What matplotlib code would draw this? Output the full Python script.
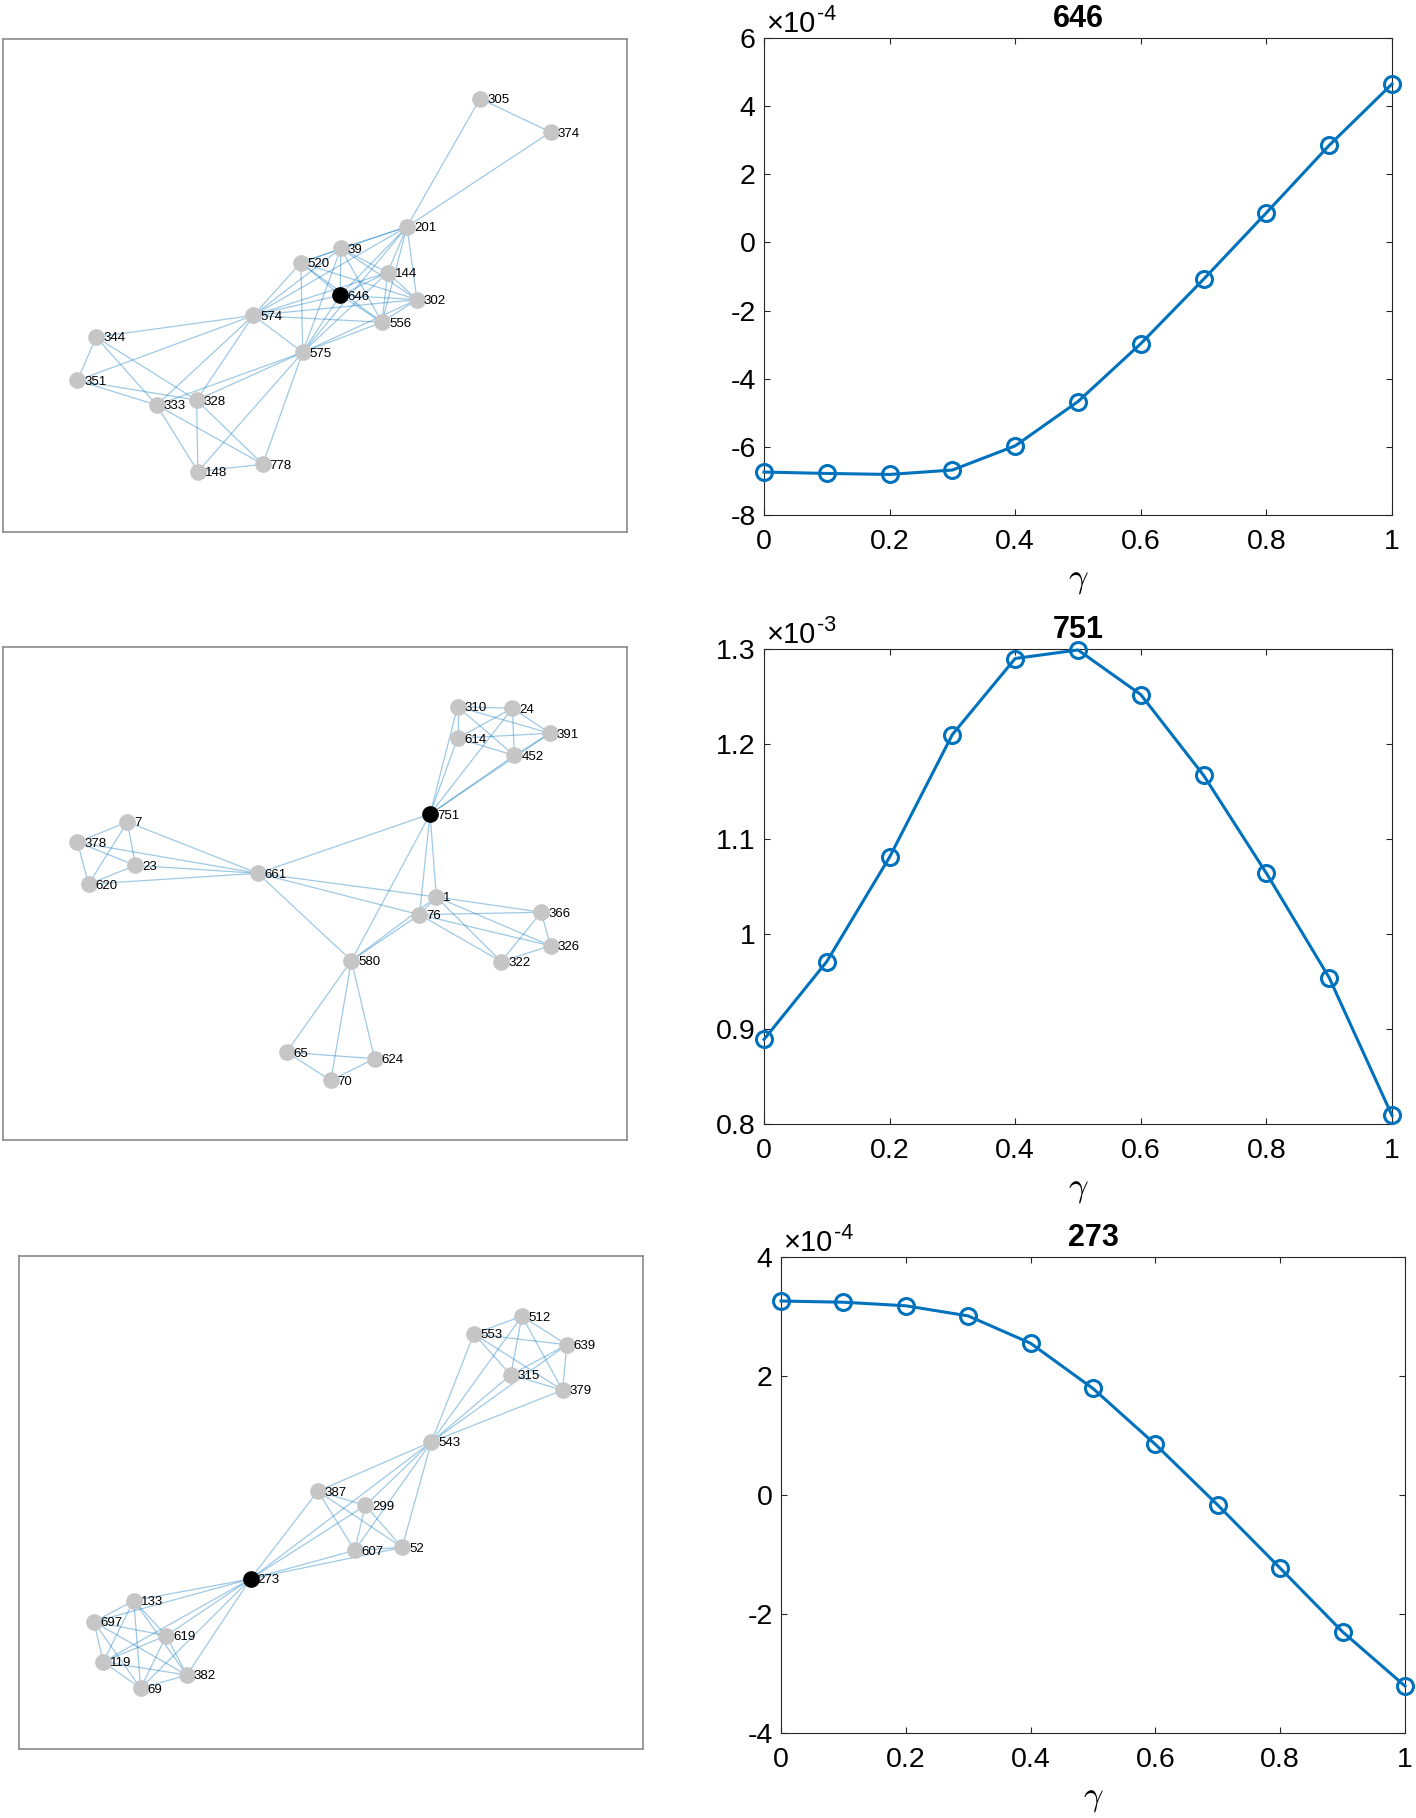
import matplotlib
matplotlib.use("Agg")
import matplotlib.pyplot as plt
import numpy as np

plt.rcParams['font.family'] = ['Liberation Sans', 'DejaVu Sans']
plt.rcParams['mathtext.fontset'] = 'cm'
plt.rcParams['axes.unicode_minus'] = False

# gamma grid shared by all three curves
gamma = [0, 0.1, 0.2, 0.3, 0.4, 0.5, 0.6, 0.7, 0.8, 0.9, 1.0]

# curve values (already divided by the scale factor)
val_646 = [-6.74, -6.78, -6.81, -6.68, -5.97, -4.67, -2.97, -1.08, 0.87, 2.85, 4.65]
val_751 = [0.889, 0.971, 1.081, 1.210, 1.290, 1.299, 1.252, 1.167, 1.064, 0.954, 0.809]
val_273 = [3.26, 3.24, 3.18, 3.01, 2.55, 1.79, 0.85, -0.17, -1.23, -2.30, -3.21]

# --- network 1 (focus node 646) ---
names_1 = ['305', '374', '201', '39', '520', '144', '646', '302', '574',
           '556', '344', '575', '351', '333', '328', '148', '778']
x_1 = [0.765, 0.878, 0.648, 0.542, 0.478, 0.617, 0.541, 0.664, 0.402,
       0.608, 0.150, 0.481, 0.120, 0.247, 0.311, 0.313, 0.417]
y_1 = [0.121, 0.189, 0.381, 0.425, 0.454, 0.474, 0.520, 0.529, 0.561,
       0.575, 0.605, 0.636, 0.693, 0.743, 0.733, 0.878, 0.863]
edges_1 = [('305', '374'), ('305', '201'), ('374', '201'),
           ('201', '39'), ('201', '520'), ('201', '144'), ('201', '302'), ('201', '646'),
           ('201', '556'), ('201', '575'), ('201', '574'),
           ('39', '520'), ('39', '144'), ('39', '646'), ('39', '302'), ('39', '556'),
           ('39', '575'), ('39', '574'),
           ('520', '574'), ('520', '575'), ('520', '302'), ('520', '556'), ('520', '646'),
           ('144', '646'), ('144', '302'), ('144', '556'), ('144', '574'), ('144', '575'),
           ('646', '302'), ('646', '556'), ('646', '574'), ('646', '575'),
           ('302', '556'), ('302', '574'), ('302', '575'),
           ('574', '556'), ('574', '575'), ('574', '344'), ('574', '351'), ('574', '333'),
           ('574', '328'), ('556', '575'),
           ('575', '328'), ('575', '333'), ('575', '148'), ('575', '778'),
           ('344', '351'), ('344', '328'), ('344', '333'),
           ('351', '333'), ('351', '328'),
           ('333', '148'), ('333', '778'), ('328', '148'), ('328', '778'), ('148', '778')]

# --- network 2 (focus node 751) ---
names_2 = ['310', '24', '391', '614', '452', '751', '7', '378', '23', '620',
           '661', '1', '76', '366', '326', '322', '580', '65', '624', '70']
x_2 = [0.729, 0.817, 0.877, 0.729, 0.820, 0.685, 0.200, 0.120, 0.213, 0.138,
       0.409, 0.695, 0.668, 0.863, 0.878, 0.799, 0.559, 0.455, 0.596, 0.526]
y_2 = [0.121, 0.124, 0.175, 0.185, 0.220, 0.339, 0.355, 0.396, 0.443, 0.481,
       0.459, 0.507, 0.543, 0.538, 0.606, 0.638, 0.636, 0.822, 0.835, 0.879]
edges_2 = [('310', '24'), ('310', '614'), ('310', '391'), ('310', '452'), ('310', '751'),
           ('24', '614'), ('24', '391'), ('24', '452'), ('24', '751'),
           ('391', '614'), ('391', '452'), ('391', '751'),
           ('614', '452'), ('614', '751'), ('452', '751'),
           ('751', '661'), ('751', '580'), ('751', '1'), ('751', '76'),
           ('7', '378'), ('7', '23'), ('7', '620'), ('7', '661'),
           ('378', '23'), ('378', '620'), ('378', '661'),
           ('23', '620'), ('23', '661'), ('620', '661'),
           ('661', '1'), ('661', '76'), ('661', '580'),
           ('1', '76'), ('1', '366'), ('1', '326'), ('1', '322'), ('1', '580'),
           ('76', '366'), ('76', '326'), ('76', '322'), ('76', '580'),
           ('366', '326'), ('366', '322'), ('326', '322'),
           ('580', '65'), ('580', '70'), ('580', '624'),
           ('65', '624'), ('65', '70'), ('70', '624')]

# --- network 3 (focus node 273) ---
names_3 = ['512', '553', '639', '315', '379', '543', '387', '299', '607', '52',
           '273', '133', '697', '619', '119', '382', '69']
x_3 = [0.806, 0.729, 0.878, 0.788, 0.871, 0.661, 0.479, 0.555, 0.538, 0.614,
       0.371, 0.184, 0.120, 0.236, 0.135, 0.269, 0.195]
y_3 = [0.122, 0.158, 0.180, 0.241, 0.272, 0.377, 0.477, 0.506, 0.597, 0.591,
       0.655, 0.699, 0.742, 0.770, 0.823, 0.850, 0.877]
edges_3 = [('512', '553'), ('512', '639'), ('512', '315'), ('512', '379'), ('512', '543'),
           ('553', '639'), ('553', '315'), ('553', '379'), ('553', '543'),
           ('639', '315'), ('639', '379'), ('639', '543'),
           ('315', '379'), ('315', '543'), ('379', '543'),
           ('543', '387'), ('543', '299'), ('543', '607'), ('543', '52'), ('543', '273'),
           ('387', '299'), ('387', '607'), ('387', '52'), ('387', '273'),
           ('299', '607'), ('299', '52'), ('299', '273'),
           ('607', '52'), ('607', '273'), ('52', '273'),
           ('273', '133'), ('273', '697'), ('273', '619'), ('273', '119'), ('273', '382'),
           ('273', '69'),
           ('133', '697'), ('133', '619'), ('133', '119'), ('133', '382'), ('133', '69'),
           ('697', '619'), ('697', '119'), ('697', '382'), ('697', '69'),
           ('619', '119'), ('619', '382'), ('619', '69'),
           ('119', '382'), ('119', '69'), ('382', '69')]

W, H = 1416, 1818
fig = plt.figure(figsize=(W / 100, H / 100), dpi=100)


def px_axes(x0, y0, x1, y1):
    # pixel box (top-left origin) -> figure axes
    return fig.add_axes([x0 / W, 1 - y1 / H, (x1 - x0) / W, (y1 - y0) / H])


def draw_network(ax, names, xs, ys, edges, focus):
    pos = {n: (x, y) for n, x, y in zip(names, xs, ys)}
    for a, b in edges:
        ax.plot([pos[a][0], pos[b][0]], [pos[a][1], pos[b][1]],
                color='#0072BD', alpha=0.38, lw=0.9, zorder=1)
    for n in names:
        c = 'black' if n == focus else '#c6c6c6'
        ax.plot(pos[n][0], pos[n][1], 'o', ms=11, color=c, mec=c, zorder=2)
        ax.annotate(n, pos[n], xytext=(5, -1), textcoords='offset points',
                    ha='left', va='center', fontsize=9.5, zorder=3)
    ax.set_xlim(0, 1)
    ax.set_ylim(1, 0)
    ax.set_xticks([])
    ax.set_yticks([])
    for s in ax.spines.values():
        s.set_color('#8a8a8a')
        s.set_linewidth(1.2)


def draw_curve(ax, vals, title, ylim, yticks, yticklabels, exp):
    ax.plot(gamma, vals, '-o', color='#0072BD', lw=2.2, ms=11.5, mfc='none',
            mew=2.2, clip_on=False, zorder=3)
    ax.set_xlim(0, 1)
    ax.set_ylim(*ylim)
    ax.set_xticks([0, 0.2, 0.4, 0.6, 0.8, 1])
    ax.set_xticklabels(['0', '0.2', '0.4', '0.6', '0.8', '1'])
    ax.set_yticks(yticks)
    ax.set_yticklabels(yticklabels)
    ax.tick_params(direction='in', top=True, right=True, labelsize=20.5,
                   length=4.5, width=0.8, color='#262626')
    ax.tick_params(axis='x', pad=10)
    ax.tick_params(axis='y', pad=6)
    for s in ax.spines.values():
        s.set_color('#262626')
        s.set_linewidth(0.8)
    ax.set_xlabel(r'$\gamma$', fontsize=25, labelpad=6)
    ax.set_title(title, fontsize=22, fontweight='bold', pad=8)
    t1 = ax.annotate('\u00d710', xy=(0, 1), xycoords='axes fraction',
                     xytext=(2, 4), textcoords='offset points',
                     fontsize=21, ha='left', va='baseline')
    ax.annotate(exp, xy=(1.0, 0.0), xycoords=t1, xytext=(0.5, 9.5),
                textcoords='offset points', fontsize=15.5, ha='left', va='bottom')


ax1 = px_axes(2.5, 39, 626.7, 531.7)
draw_network(ax1, names_1, x_1, y_1, edges_1, '646')
ax2 = px_axes(2.5, 647, 626.7, 1140)
draw_network(ax2, names_2, x_2, y_2, edges_2, '751')
ax3 = px_axes(19, 1256, 643, 1749)
draw_network(ax3, names_3, x_3, y_3, edges_3, '273')

bx1 = px_axes(764, 38, 1392, 515)
draw_curve(bx1, val_646, '646', (-8, 6), list(range(-8, 7, 2)),
           [str(v) for v in range(-8, 7, 2)], '-4')
bx2 = px_axes(764, 649, 1392, 1124)
draw_curve(bx2, val_751, '751', (0.8, 1.3), [0.8, 0.9, 1.0, 1.1, 1.2, 1.3],
           ['0.8', '0.9', '1', '1.1', '1.2', '1.3'], '-3')
bx3 = px_axes(781, 1257, 1405, 1733)
draw_curve(bx3, val_273, '273', (-4, 4), [-4, -2, 0, 2, 4],
           ['-4', '-2', '0', '2', '4'], '-4')

fig.savefig('out.png', dpi=100)
